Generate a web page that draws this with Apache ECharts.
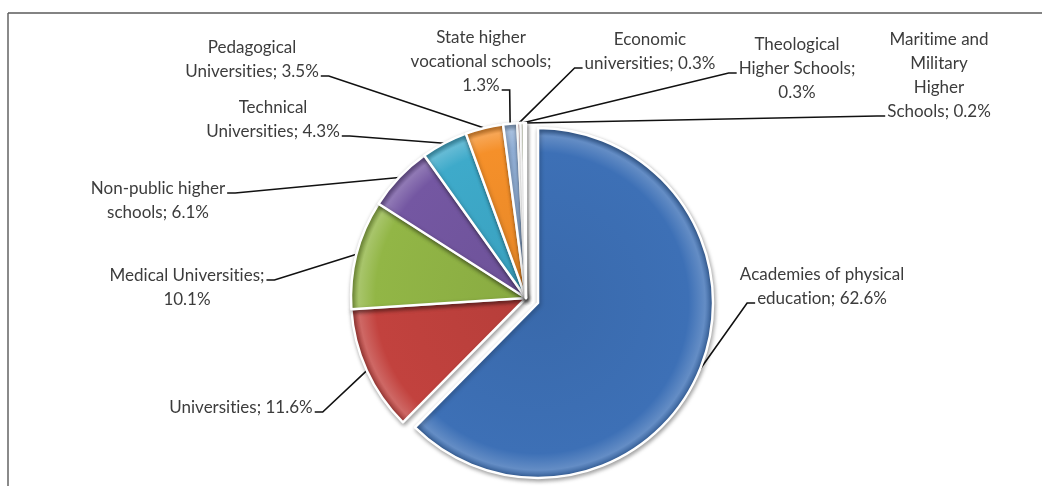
<!DOCTYPE html>
<html>
<head>
<meta charset="utf-8">
<script src="https://cdn.jsdelivr.net/npm/echarts@6/dist/echarts.min.js"></script>
<style>
  html, body { margin: 0; padding: 0; background: #fff; }
  #chart { width: 1042px; height: 486px; }
</style>
</head>
<body>
<div id="chart"></div>
<script>
// Share of students by type of higher school (%)
const categories = [
  'Academies of physical education',
  'Universities',
  'Medical Universities',
  'Non-public higher schools',
  'Technical Universities',
  'Pedagogical Universities',
  'State higher vocational schools',
  'Economic universities',
  'Theological Higher Schools',
  'Maritime and Military Higher Schools'
];
const shares = [62.6, 11.6, 10.1, 6.1, 4.3, 3.5, 1.3, 0.3, 0.3, 0.2];

// Label text as it wraps around the pie
const labelTexts = [
  'Academies of physical\neducation; 62.6%',
  'Universities; 11.6%',
  'Medical Universities;\n10.1%',
  'Non-public higher\nschools; 6.1%',
  'Technical\nUniversities; 4.3%',
  'Pedagogical\nUniversities; 3.5%',
  'State higher\nvocational schools;\n1.3%',
  'Economic\nuniversities; 0.3%',
  'Theological\nHigher Schools;\n0.3%',
  'Maritime and\nMilitary\nHigher\nSchools; 0.2%'
];

const palette = ['#3d70b6', '#c2423e', '#92b646', '#7457a2', '#3eaaca', '#f5902a',
                 '#91afd6', '#d08a88', '#b6c98e', '#a897c0'];

// label block centres (px)
const labelSpots = [
  [822, 287], [241, 408], [187, 288], [158, 201], [273, 120],
  [252, 60], [481, 62], [650, 52], [797, 69], [939, 76]
];
// which side / which line of each label the leader line meets
const leaderHooks = [
  ['L', 1], ['R', 0], ['R', 0], ['R', 0], ['R', 1],
  ['R', 1], ['R', 2], ['L', 1], ['L', 1], ['L', 3]
];

const CX = 526, CY = 298, R = 175, EXPLODE = 13;
const FONT_SIZE = 17, LINE_H = 24, FONT = FONT_SIZE + 'px Lato';

const total = shares.reduce((a, b) => a + b, 0);
const startFrac = [];
shares.reduce((acc, v, i) => { startFrac[i] = acc; return acc + v; }, 0);
const midAngle = i => ((startFrac[i] + shares[i] / 2) / total) * 2 * Math.PI;

// pulled-out first slice
const ex = CX + EXPLODE * Math.sin(midAngle(0));
const ey = CY - EXPLODE * Math.cos(midAngle(0));

function shade(hex, f) {
  const n = parseInt(hex.slice(1), 16);
  let r = (n >> 16) & 255, g = (n >> 8) & 255, b = n & 255;
  const t = f > 0 ? 255 : 0, k = Math.abs(f);
  r = Math.round(r + (t - r) * k); g = Math.round(g + (t - g) * k); b = Math.round(b + (t - b) * k);
  return 'rgb(' + r + ',' + g + ',' + b + ')';
}

function bevel(hex, cx, cy) {
  return {
    type: 'radial', x: cx, y: cy, r: R, global: true,
    colorStops: [
      { offset: 0, color: shade(hex, -0.06) },
      { offset: 0.86, color: hex },
      { offset: 0.955, color: shade(hex, 0.2) },
      { offset: 1, color: shade(hex, -0.18) }
    ]
  };
}

const measureCtx = document.createElement('canvas').getContext('2d');
measureCtx.font = FONT;
try { measureCtx.textRendering = 'optimizeSpeed'; } catch (e) {}

function leader(i, cx, cy) {
  const a = midAngle(i);
  const rim = [cx + R * Math.sin(a), cy - R * Math.cos(a)];
  const lines = labelTexts[i].split('\n');
  const [side, li] = leaderHooks[i];
  const w = measureCtx.measureText(lines[li]).width;
  const [lx, ly] = labelSpots[i];
  const y = ly - (lines.length * LINE_H) / 2 + LINE_H * (li + 0.5) + 4;
  const x = side === 'L' ? lx - w / 2 - 2 : lx + w / 2 + 2;
  const knee = [side === 'L' ? x - 8 : x + 8, y];
  return [rim, knee, [x, y]];
}

const baseStyle = {
  borderColor: '#ffffff',
  borderWidth: 2.5,
  shadowBlur: 4,
  shadowColor: 'rgba(0,0,0,0.35)',
  shadowOffsetX: 1,
  shadowOffsetY: 2
};
const hidden = {
  itemStyle: { color: 'rgba(0,0,0,0)', borderWidth: 0, shadowBlur: 0, shadowColor: 'rgba(0,0,0,0)' },
  label: { show: false },
  labelLine: { show: false }
};

function makeSeries(seriesCx, seriesCy, keep) {
  return {
    type: 'pie',
    center: [seriesCx, seriesCy],
    radius: R,
    startAngle: 90,
    clockwise: true,
    avoidLabelOverlap: false,
    silent: true,
    data: categories.map((name, i) => Object.assign(
      { name: name, value: shares[i] },
      keep(i) ? { itemStyle: { color: bevel(palette[i], seriesCx, seriesCy) } } : hidden
    )),
    itemStyle: baseStyle,
    label: {
      show: true,
      position: 'outside',
      formatter: p => labelTexts[p.dataIndex],
      fontFamily: 'Lato',
      fontSize: FONT_SIZE,
      lineHeight: LINE_H,
      color: '#3c3c3c',
      align: 'center'
    },
    labelLine: {
      show: true,
      smooth: false,
      lineStyle: { color: '#111111', width: 1.6 }
    },
    labelLayout: p => keep(p.dataIndex) ? {
      x: labelSpots[p.dataIndex][0],
      y: labelSpots[p.dataIndex][1],
      align: 'center',
      verticalAlign: 'middle',
      hideOverlap: false,
      labelLinePoints: leader(p.dataIndex, seriesCx, seriesCy)
    } : {},
    emphasis: { disabled: true }
  };
}

const chart = echarts.init(document.getElementById('chart'), null, { renderer: 'canvas' });
const option = {
  animation: false,
  backgroundColor: '#ffffff',
  graphic: [
    { type: 'line', shape: { x1: 8, y1: 13, x2: 8, y2: 486 }, style: { stroke: '#8a8a8a', lineWidth: 2 } },
    { type: 'line', shape: { x1: 8, y1: 13, x2: 1042, y2: 13 }, style: { stroke: '#5a5a5a', lineWidth: 1.5 } }
  ],
  series: [
    makeSeries(CX, CY, i => i !== 0),
    makeSeries(ex, ey, i => i === 0)
  ]
};
chart.setOption(option);
// plain glyphs, no ligatures, then paint again
document.querySelectorAll('#chart canvas').forEach(c => {
  try { c.getContext('2d').textRendering = 'optimizeSpeed'; } catch (e) {}
});
chart.setOption(option, true);
</script>
</body>
</html>
